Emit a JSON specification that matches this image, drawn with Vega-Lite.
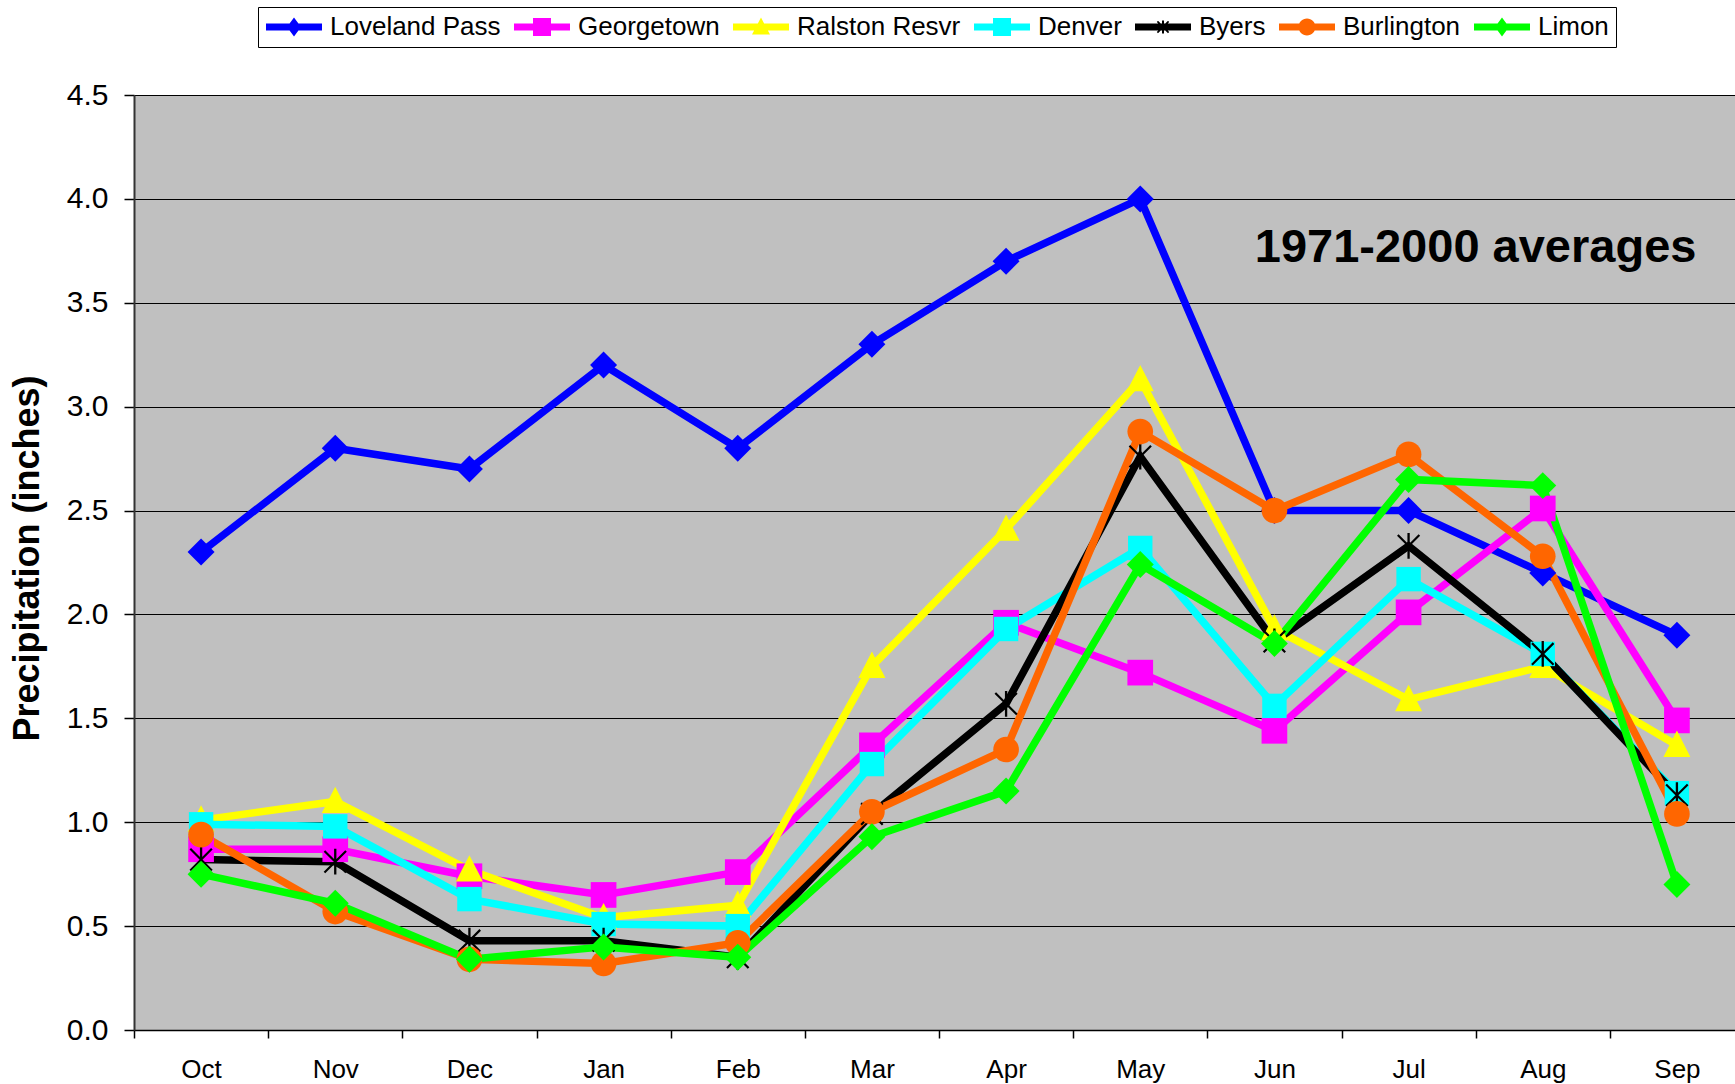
{
  "$schema": "https://vega.github.io/schema/vega-lite/v6.json",
  "width": 1601,
  "height": 935,
  "autosize": {"type": "none"},
  "padding": {"left": 134, "top": 95, "right": 0, "bottom": 54},
  "background": "white",
  "config": {"font": "Liberation Sans", "view": {"fill": "#C0C0C0", "stroke": null}},
  "datasets": {"precip": [
    {"station": "Loveland Pass", "month": "Oct", "value": 2.3},
    {"station": "Loveland Pass", "month": "Nov", "value": 2.8},
    {"station": "Loveland Pass", "month": "Dec", "value": 2.7},
    {"station": "Loveland Pass", "month": "Jan", "value": 3.2},
    {"station": "Loveland Pass", "month": "Feb", "value": 2.8},
    {"station": "Loveland Pass", "month": "Mar", "value": 3.3},
    {"station": "Loveland Pass", "month": "Apr", "value": 3.7},
    {"station": "Loveland Pass", "month": "May", "value": 4.0},
    {"station": "Loveland Pass", "month": "Jun", "value": 2.5},
    {"station": "Loveland Pass", "month": "Jul", "value": 2.5},
    {"station": "Loveland Pass", "month": "Aug", "value": 2.2},
    {"station": "Loveland Pass", "month": "Sep", "value": 1.9},
    {"station": "Georgetown", "month": "Oct", "value": 0.87},
    {"station": "Georgetown", "month": "Nov", "value": 0.87},
    {"station": "Georgetown", "month": "Dec", "value": 0.74},
    {"station": "Georgetown", "month": "Jan", "value": 0.65},
    {"station": "Georgetown", "month": "Feb", "value": 0.76},
    {"station": "Georgetown", "month": "Mar", "value": 1.37},
    {"station": "Georgetown", "month": "Apr", "value": 1.96},
    {"station": "Georgetown", "month": "May", "value": 1.72},
    {"station": "Georgetown", "month": "Jun", "value": 1.44},
    {"station": "Georgetown", "month": "Jul", "value": 2.01},
    {"station": "Georgetown", "month": "Aug", "value": 2.51},
    {"station": "Georgetown", "month": "Sep", "value": 1.49},
    {"station": "Ralston Resvr", "month": "Oct", "value": 1.01},
    {"station": "Ralston Resvr", "month": "Nov", "value": 1.10},
    {"station": "Ralston Resvr", "month": "Dec", "value": 0.77},
    {"station": "Ralston Resvr", "month": "Jan", "value": 0.54},
    {"station": "Ralston Resvr", "month": "Feb", "value": 0.60},
    {"station": "Ralston Resvr", "month": "Mar", "value": 1.75},
    {"station": "Ralston Resvr", "month": "Apr", "value": 2.41},
    {"station": "Ralston Resvr", "month": "May", "value": 3.13},
    {"station": "Ralston Resvr", "month": "Jun", "value": 1.93},
    {"station": "Ralston Resvr", "month": "Jul", "value": 1.59},
    {"station": "Ralston Resvr", "month": "Aug", "value": 1.75},
    {"station": "Ralston Resvr", "month": "Sep", "value": 1.37},
    {"station": "Denver", "month": "Oct", "value": 0.99},
    {"station": "Denver", "month": "Nov", "value": 0.98},
    {"station": "Denver", "month": "Dec", "value": 0.63},
    {"station": "Denver", "month": "Jan", "value": 0.51},
    {"station": "Denver", "month": "Feb", "value": 0.50},
    {"station": "Denver", "month": "Mar", "value": 1.28},
    {"station": "Denver", "month": "Apr", "value": 1.93},
    {"station": "Denver", "month": "May", "value": 2.32},
    {"station": "Denver", "month": "Jun", "value": 1.56},
    {"station": "Denver", "month": "Jul", "value": 2.17},
    {"station": "Denver", "month": "Aug", "value": 1.81},
    {"station": "Denver", "month": "Sep", "value": 1.14},
    {"station": "Byers", "month": "Oct", "value": 0.82},
    {"station": "Byers", "month": "Nov", "value": 0.81},
    {"station": "Byers", "month": "Dec", "value": 0.43},
    {"station": "Byers", "month": "Jan", "value": 0.43},
    {"station": "Byers", "month": "Feb", "value": 0.35},
    {"station": "Byers", "month": "Mar", "value": 1.04},
    {"station": "Byers", "month": "Apr", "value": 1.57},
    {"station": "Byers", "month": "May", "value": 2.76},
    {"station": "Byers", "month": "Jun", "value": 1.87},
    {"station": "Byers", "month": "Jul", "value": 2.33},
    {"station": "Byers", "month": "Aug", "value": 1.81},
    {"station": "Byers", "month": "Sep", "value": 1.13},
    {"station": "Burlington", "month": "Oct", "value": 0.94},
    {"station": "Burlington", "month": "Nov", "value": 0.57},
    {"station": "Burlington", "month": "Dec", "value": 0.34},
    {"station": "Burlington", "month": "Jan", "value": 0.32},
    {"station": "Burlington", "month": "Feb", "value": 0.42},
    {"station": "Burlington", "month": "Mar", "value": 1.05},
    {"station": "Burlington", "month": "Apr", "value": 1.35},
    {"station": "Burlington", "month": "May", "value": 2.88},
    {"station": "Burlington", "month": "Jun", "value": 2.50},
    {"station": "Burlington", "month": "Jul", "value": 2.77},
    {"station": "Burlington", "month": "Aug", "value": 2.28},
    {"station": "Burlington", "month": "Sep", "value": 1.04},
    {"station": "Limon", "month": "Oct", "value": 0.75},
    {"station": "Limon", "month": "Nov", "value": 0.61},
    {"station": "Limon", "month": "Dec", "value": 0.34},
    {"station": "Limon", "month": "Jan", "value": 0.40},
    {"station": "Limon", "month": "Feb", "value": 0.35},
    {"station": "Limon", "month": "Mar", "value": 0.93},
    {"station": "Limon", "month": "Apr", "value": 1.15},
    {"station": "Limon", "month": "May", "value": 2.24},
    {"station": "Limon", "month": "Jun", "value": 1.86},
    {"station": "Limon", "month": "Jul", "value": 2.65},
    {"station": "Limon", "month": "Aug", "value": 2.62},
    {"station": "Limon", "month": "Sep", "value": 0.70}
  ],
  "note": [{"label": "1971-2000 averages"}]},
  "layer": [
    {
      "data": {"name": "precip"},
      "mark": {"type": "line", "strokeWidth": 7.5},
      "encoding": {
        "x": {
          "field": "month", "type": "nominal",
          "sort": ["Oct", "Nov", "Dec", "Jan", "Feb", "Mar", "Apr", "May", "Jun", "Jul", "Aug", "Sep"],
          "scale": {"type": "band", "domain": ["Oct", "Nov", "Dec", "Jan", "Feb", "Mar", "Apr", "May", "Jun", "Jul", "Aug", "Sep"], "range": [0, 1610], "paddingInner": 0, "paddingOuter": 0},
          "axis": {"title": null, "labelAngle": 0, "labelFontSize": 26, "labelColor": "black", "labelPadding": 18, "tickSize": 8, "tickColor": "black", "tickWidth": 1.5, "domainColor": "black", "domainWidth": 1.5, "tickBand": "extent", "grid": false}
        },
        "y": {
          "field": "value", "type": "quantitative",
          "scale": {"domain": [0, 4.5], "nice": false},
          "axis": {"title": "Precipitation (inches)", "values": [0, 0.5, 1, 1.5, 2, 2.5, 3, 3.5, 4, 4.5], "format": ".1f", "labelFontSize": 30, "labelColor": "black", "labelPadding": 16, "tickSize": 10, "tickColor": "black", "tickWidth": 1.5, "domainColor": "#333333", "domainWidth": 2, "grid": true, "gridColor": "black", "gridWidth": 1, "titleFontSize": 36, "titleFontWeight": "bold", "titleColor": "black", "titleX": -96, "titleY": 463, "titleAngle": 270, "titleAlign": "center", "titleBaseline": "alphabetic"}
        },
        "color": {"field": "station", "type": "nominal",
          "scale": {"domain": ["Loveland Pass", "Georgetown", "Ralston Resvr", "Denver", "Byers", "Burlington", "Limon"], "range": ["#0000FF", "#FF00FF", "#FFFF00", "#00FFFF", "#000000", "#FF6600", "#00FF00"]},
          "legend": null}
      }
    },
    {
      "data": {"name": "precip"},
      "mark": {"type": "point", "filled": true, "size": 660, "opacity": 1, "strokeWidth": 0},
      "encoding": {
        "x": {"field": "month", "type": "nominal", "sort": ["Oct", "Nov", "Dec", "Jan", "Feb", "Mar", "Apr", "May", "Jun", "Jul", "Aug", "Sep"]},
        "y": {"field": "value", "type": "quantitative"},
        "color": {"field": "station", "type": "nominal", "legend": null},
        "shape": {"field": "station", "type": "nominal", "legend": null,
          "scale": {"domain": ["Loveland Pass", "Georgetown", "Ralston Resvr", "Denver", "Byers", "Burlington", "Limon"],
            "range": [
              "M0,-1.05L1.05,0L0,1.05L-1.05,0Z",
              "M-1,-1L1,-1L1,1L-1,1Z",
              "M0,-1.15L1.05,0.9L-1.05,0.9Z",
              "M-0.95,-0.95L0.95,-0.95L0.95,0.95L-0.95,0.95Z",
              "M-0.09,-1L0.09,-1L0.09,1L-0.09,1Z M-0.78,-0.9L0.9,0.78L0.78,0.9L-0.9,-0.78Z M0.78,-0.9L0.9,-0.78L-0.78,0.9L-0.9,0.78Z",
              "M1,0A1,1,0,1,1,-1,0A1,1,0,1,1,1,0Z",
              "M0,-1.05L1.05,0L0,1.05L-1.05,0Z"
            ]}}
      }
    },
    {
      "data": {"name": "precip"},
      "transform": [{"filter": "datum.value > 100"}],
      "mark": {"type": "point", "filled": true, "opacity": 1, "strokeWidth": 0},
      "encoding": {
        "x": {"field": "month", "type": "nominal", "sort": ["Oct", "Nov", "Dec", "Jan", "Feb", "Mar", "Apr", "May", "Jun", "Jul", "Aug", "Sep"]},
        "y": {"field": "value", "type": "quantitative"},
        "fill": {"field": "station", "type": "nominal",
          "scale": {"domain": ["Loveland Pass", "Georgetown", "Ralston Resvr", "Denver", "Byers", "Burlington", "Limon"], "range": ["#0000FF", "#FF00FF", "#FFFF00", "#00FFFF", "#000000", "#FF6600", "#00FF00"]},
          "legend": {
            "orient": "none", "legendX": 124, "legendY": -88, "direction": "horizontal", "columns": 7,
            "title": null, "padding": 7, "fillColor": "white", "strokeColor": "black",
            "columnPadding": 12, "symbolSize": 400, "symbolStrokeWidth": 0, "symbolOffset": 16, "symbolOpacity": 1,
            "labelOffset": 23, "labelFontSize": 26, "labelColor": "black", "labelLimit": 400, "labelFont": "Liberation Sans"
          }},
        "shape": {"field": "station", "type": "nominal",
          "scale": {"domain": ["Loveland Pass", "Georgetown", "Ralston Resvr", "Denver", "Byers", "Burlington", "Limon"],
            "range": [
              "M-2.8,-0.35L2.8,-0.35L2.8,0.35L-2.8,0.35Z M0,-0.95L0.7,0L0,0.95L-0.7,0Z",
              "M-2.8,-0.35L2.8,-0.35L2.8,0.35L-2.8,0.35Z M-0.9,-0.9L0.9,-0.9L0.9,0.9L-0.9,0.9Z",
              "M-2.8,-0.35L2.8,-0.35L2.8,0.35L-2.8,0.35Z M0,-0.95L0.9,0.75L-0.9,0.75Z",
              "M-2.8,-0.35L2.8,-0.35L2.8,0.35L-2.8,0.35Z M-0.9,-0.9L0.9,-0.9L0.9,0.9L-0.9,0.9Z",
              "M-2.8,-0.35L2.8,-0.35L2.8,0.35L-2.8,0.35Z M-0.1,-0.65L0.1,-0.65L0.1,0.65L-0.1,0.65Z M-0.5,-0.62L0.62,0.5L0.5,0.62L-0.62,-0.5Z M0.5,-0.62L0.62,-0.5L-0.5,0.62L-0.62,0.5Z",
              "M-2.8,-0.35L2.8,-0.35L2.8,0.35L-2.8,0.35Z M0.85,0A0.85,0.85,0,1,1,-0.85,0A0.85,0.85,0,1,1,0.85,0Z",
              "M-2.8,-0.35L2.8,-0.35L2.8,0.35L-2.8,0.35Z M0,-0.95L0.7,0L0,0.95L-0.7,0Z"
            ]},
          "legend": {
            "orient": "none", "legendX": 124, "legendY": -88, "direction": "horizontal", "columns": 7,
            "title": null, "padding": 7, "fillColor": "white", "strokeColor": "black",
            "columnPadding": 12, "symbolSize": 400, "symbolStrokeWidth": 0, "symbolOffset": 16, "symbolOpacity": 1,
            "labelOffset": 23, "labelFontSize": 26, "labelColor": "black", "labelLimit": 400, "labelFont": "Liberation Sans"
          }}
      }
    },
    {
      "data": {"name": "note"},
      "mark": {"type": "text", "fontSize": 47, "fontWeight": "bold", "align": "center", "baseline": "alphabetic", "dx": 67, "color": "black", "font": "Liberation Sans"},
      "encoding": {
        "x": {"datum": "Jul"},
        "y": {"datum": 3.696},
        "text": {"field": "label", "type": "nominal"}
      }
    }
  ],
  "resolve": {"scale": {"shape": "independent", "fill": "independent"}}
}
